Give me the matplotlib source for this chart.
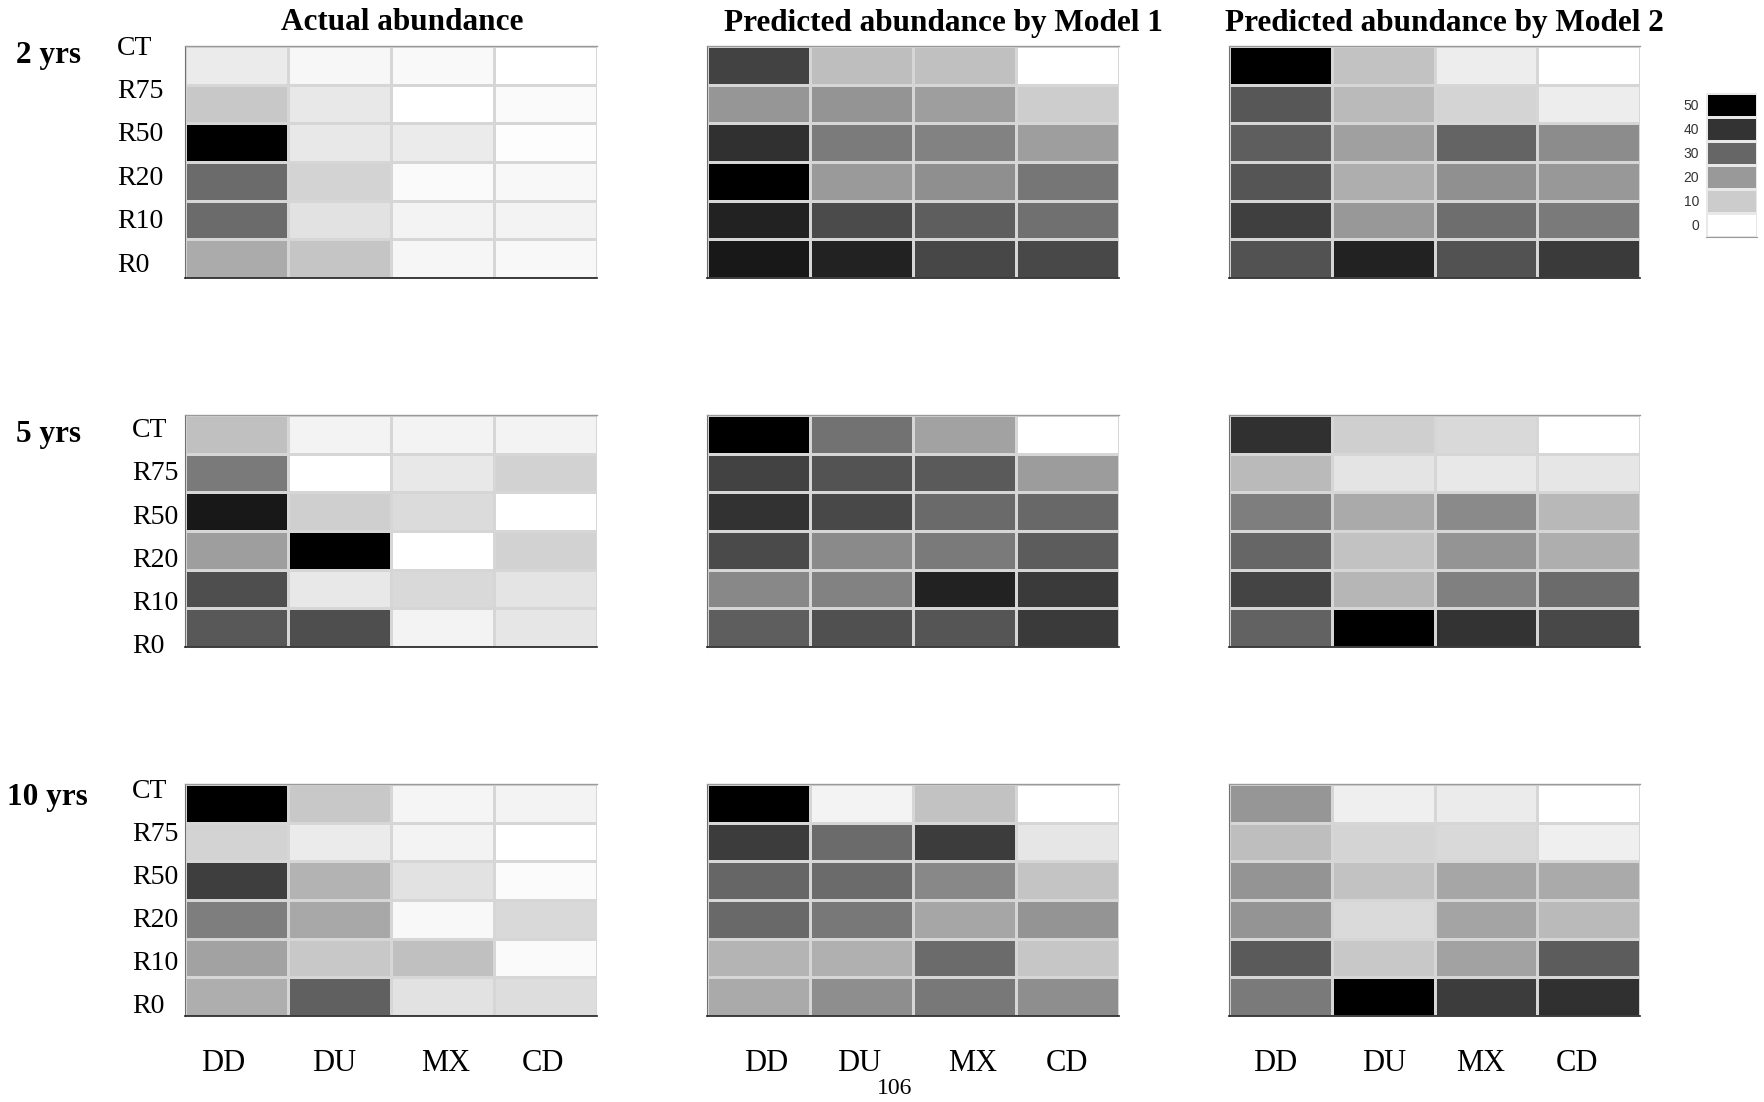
import numpy as np
import matplotlib.pyplot as plt
from matplotlib.colors import LinearSegmentedColormap

plt.rcParams['font.family'] = ['Liberation Serif', 'DejaVu Serif']

rows = ['CT', 'R75', 'R50', 'R20', 'R10', 'R0']
cols = ['DD', 'DU', 'MX', 'CD']
periods = ['2 yrs', '5 yrs', '10 yrs']
titles = ['Actual abundance', 'Predicted abundance by Model 1',
          'Predicted abundance by Model 2']
legend_vals = [50, 40, 30, 20, 10, 0]

# abundance (rows CT..R0, cols DD, DU, MX, CD)
act_2 = [[4.1, 1.6, 1.2, 0.0],
         [10.8, 4.5, 0.0, 1.0],
         [50.0, 4.5, 4.1, 0.4],
         [29.0, 8.6, 1.0, 1.4],
         [29.0, 5.7, 2.5, 2.5],
         [16.5, 11.4, 1.8, 1.4]]
m1_2 = [[37.1, 12.7, 12.4, 0.0],
        [20.6, 21.0, 19.0, 9.8],
        [40.6, 25.9, 24.5, 19.0],
        [50.0, 19.8, 22.0, 26.9],
        [43.3, 35.3, 31.6, 28.0],
        [45.3, 43.3, 36.1, 35.9]]
m2_2 = [[50.0, 12.0, 3.7, 0.0],
        [32.9, 13.5, 8.4, 3.7],
        [31.6, 18.6, 30.4, 22.5],
        [33.3, 15.9, 21.8, 20.2],
        [37.5, 20.2, 28.4, 26.1],
        [33.9, 43.3, 33.9, 38.6]]

act_5 = [[12.4, 2.5, 2.5, 2.4],
         [26.1, 0.0, 4.5, 8.8],
         [45.3, 9.4, 7.1, 0.0],
         [19.0, 50.0, 0.0, 8.8],
         [34.7, 4.5, 7.6, 5.3],
         [32.7, 34.7, 2.4, 4.9]]
m1_5 = [[50.0, 27.6, 18.2, 0.0],
        [37.1, 33.7, 32.4, 19.4],
        [40.2, 35.9, 29.2, 29.6],
        [35.5, 22.9, 26.1, 32.0],
        [23.3, 24.5, 43.3, 38.6],
        [31.6, 34.3, 33.3, 38.6]]
m2_5 = [[40.6, 9.4, 7.5, 0.0],
        [13.5, 5.3, 4.5, 4.9],
        [25.3, 16.7, 22.9, 13.9],
        [30.0, 12.0, 21.0, 15.9],
        [36.7, 14.3, 24.9, 29.0],
        [30.8, 50.0, 40.0, 35.9]]

act_10 = [[50.0, 10.8, 2.0, 2.4],
          [8.6, 4.1, 2.5, 0.0],
          [37.8, 14.9, 5.7, 0.8],
          [25.3, 17.1, 1.4, 7.6],
          [18.2, 10.8, 12.4, 1.0],
          [15.9, 31.2, 5.7, 6.7]]
m1_10 = [[50.0, 2.5, 12.0, 0.0],
         [38.2, 29.0, 38.2, 4.9],
         [30.0, 29.0, 23.3, 11.6],
         [29.4, 26.5, 17.5, 21.0],
         [14.7, 15.5, 29.0, 11.2],
         [16.7, 22.2, 26.5, 22.2]]
m2_10 = [[20.6, 3.3, 4.1, 0.0],
         [12.7, 8.4, 7.5, 3.3],
         [21.0, 12.0, 17.5, 16.7],
         [21.0, 7.3, 17.8, 13.5],
         [32.4, 10.8, 18.2, 32.0],
         [26.1, 50.0, 38.2, 40.6]]

panels = [[act_2, m1_2, m2_2],
          [act_5, m1_5, m2_5],
          [act_10, m1_10, m2_10]]

cmap = LinearSegmentedColormap.from_list('bw', ['white', 'black'])

W, H = 1764, 1102
fig = plt.figure(figsize=(W / 100, H / 100), dpi=100)

lefts = [184.5, 706.5, 1228.5]
tops = [46.1, 415.1, 784.1]
pw, ph = 412, 232
# row label placement (x offset, first y, step) in cell units
lab_pos = [(-0.655, 0.05, 1.124), (-0.51, 0.40, 1.118), (-0.51, 0.20, 1.112)]
year_pos = [(15.75, 55.5), (15.75, 434.5), (6.75, 798)]
# column labels sit slightly off the cell centres in the original
col_pos = [[0.38, 1.45, 2.54, 3.48],
           [0.58, 1.48, 2.58, 3.50],
           [0.45, 1.51, 2.45, 3.38]]

for i in range(3):
    for j in range(3):
        ax = fig.add_axes([lefts[j] / W, 1 - (tops[i] + ph) / H, pw / W, ph / H])
        ax.pcolormesh(np.array(panels[i][j]), cmap=cmap, vmin=0, vmax=50,
                      edgecolors='#d6d6d6', linewidth=1.8)
        ax.set_xlim(0, 4)
        ax.set_ylim(6, 0)
        ax.set_yticks([])
        ax.spines['right'].set_visible(False)
        ax.spines['top'].set_color('#9a9a9a')
        ax.spines['top'].set_linewidth(1.0)
        ax.spines['bottom'].set_color('#1e1e1e')
        ax.spines['bottom'].set_linewidth(1.2)
        ax.spines['left'].set_color('#707070')
        ax.spines['left'].set_linewidth(0.8)
        if i == 2:
            ax.set_xticks(col_pos[j], cols, fontsize=22)
            ax.tick_params(axis='x', length=0, pad=24)
        else:
            ax.set_xticks([])
        if j == 0:
            xo, y0, st = lab_pos[i]
            for k, r in enumerate(rows):
                ax.text(xo, y0 + k * st, r, fontsize=20, ha='left', va='center')

for i, p in enumerate(periods):
    x, y = year_pos[i]
    fig.text(x / W, 1 - y / H, p, fontsize=22.5, fontweight='bold',
             ha='left', va='center')

title_x = [402, 943, 1444]
for t, x in zip(titles, title_x):
    fig.text(x / W, 1 - 23 / H, t, fontsize=22.5, fontweight='bold',
             ha='center', va='center')

# stepped legend
lax = fig.add_axes([1706 / W, 1 - 237 / H, 51 / W, 144.3 / H])
lax.pcolormesh(np.array(legend_vals)[:, None], cmap=cmap, vmin=0, vmax=50,
               edgecolors='#e8e8e8', linewidth=0.8)
lax.set_xlim(0, 1)
lax.set_ylim(6, 0)
lax.set_xticks([])
lax.set_yticks(np.arange(6) + 0.5, [str(v) for v in legend_vals],
               fontsize=10, family='Liberation Sans', color='#333333')
lax.tick_params(axis='y', length=0, pad=5)
for s in ['top', 'left', 'right']:
    lax.spines[s].set_visible(False)
lax.spines['bottom'].set_color('#9a9a9a')

fig.text(895 / W, 1 - 1089 / H, '106', fontsize=17, ha='center', va='center')

fig.savefig('out.png', dpi=100)
